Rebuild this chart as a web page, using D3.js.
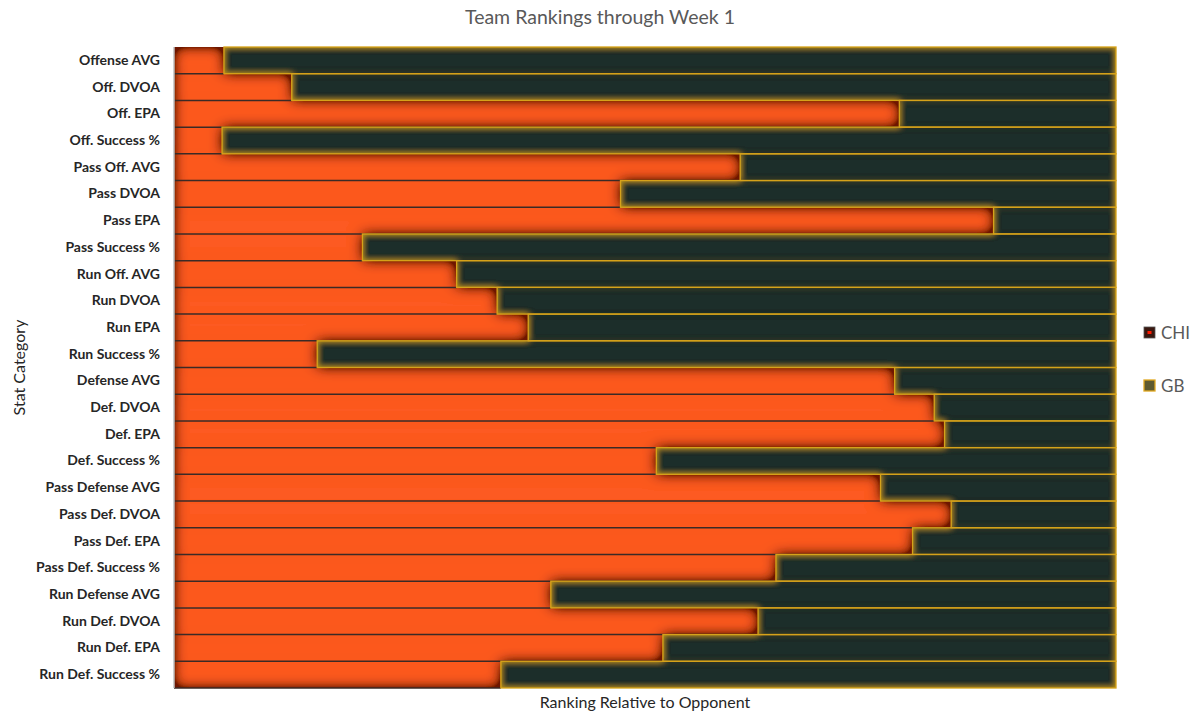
<!DOCTYPE html>
<html><head><meta charset="utf-8">
<script src="https://cdn.jsdelivr.net/npm/d3@7"></script>
<style>
html,body{margin:0;padding:0;background:#fff;}
svg{display:block;font-family:Lato, "Open Sans", sans-serif;}
</style></head>
<body><svg id="chart" width="1200" height="717"></svg>
<script>
const categories = ["Offense AVG","Off. DVOA","Off. EPA","Off. Success %","Pass Off. AVG","Pass DVOA","Pass EPA","Pass Success %","Run Off. AVG","Run DVOA","Run EPA","Run Success %","Defense AVG","Def. DVOA","Def. EPA","Def. Success %","Pass Defense AVG","Pass Def. DVOA","Pass Def. EPA","Pass Def. Success %","Run Defense AVG","Run Def. DVOA","Run Def. EPA","Run Def. Success %"];
const chiValues = [5.3,12.5,77.0,5.1,60.1,47.4,87.0,20.0,30.0,34.3,37.6,15.2,76.5,80.7,81.8,51.2,75.0,82.5,78.4,63.9,40.0,62.0,51.9,34.7];
const gbValues  = [94.7,87.5,23.0,94.9,39.9,52.6,13.0,80.0,70.0,65.7,62.4,84.8,23.5,19.3,18.2,48.8,25.0,17.5,21.6,36.1,60.0,38.0,48.1,65.3];
const seriesNames = ["CHI","GB"];
const title = "Team Rankings through Week 1";
const xTitle = "Ranking Relative to Opponent";
const yTitle = "Stat Category";

const svg = d3.select("#chart");
const M = {left:174, right:1116, top:47, bottom:688};

const rows = categories.map((c,i)=>({cat:c, CHI:chiValues[i], GB:gbValues[i]}));
const stacked = d3.stack().keys(seriesNames)(rows);

const x = d3.scaleLinear().domain([0,100]).range([M.left, M.right]);
const y = d3.scaleBand().domain(categories).range([M.top, M.bottom]).padding(0);

const defs = svg.append("defs");
function innerFilter(id, color, opacity, std, boost){
  const f = defs.append("filter").attr("id", id)
    .attr("x","-5%").attr("y","-5%").attr("width","110%").attr("height","110%");
  f.append("feComponentTransfer").attr("in","SourceAlpha").attr("result","inv")
    .append("feFuncA").attr("type","table").attr("tableValues","1 0");
  f.append("feGaussianBlur").attr("in","inv").attr("stdDeviation",std).attr("result","blur0");
  f.append("feComponentTransfer").attr("in","blur0").attr("result","blur")
    .append("feFuncA").attr("type","linear").attr("slope",boost).attr("intercept",0);
  f.append("feFlood").attr("flood-color",color).attr("flood-opacity",opacity).attr("result","col");
  f.append("feComposite").attr("in","col").attr("in2","blur").attr("operator","in").attr("result","sh");
  f.append("feComposite").attr("in","sh").attr("in2","SourceAlpha").attr("operator","in").attr("result","inner");
  const m = f.append("feMerge");
  m.append("feMergeNode").attr("in","SourceGraphic");
  m.append("feMergeNode").attr("in","inner");
}
innerFilter("innerOrange", "#5e1200", 0.95, 7, 1.9);
innerFilter("innerGold", "#e6b400", 0.8, 3, 1.0);

const colors = {CHI:"#fd5a22", GB:"#1c2f29"};

// CHI series (orange) as a group with inner shadow
const gChi = svg.append("g").attr("filter","url(#innerOrange)");
gChi.selectAll("rect").data(stacked[0]).join("rect")
  .attr("x", d=>x(d[0])).attr("width", d=>x(d[1])-x(d[0]))
  .attr("y", d=>y(d.data.cat)).attr("height", y.bandwidth())
  .attr("fill", colors.CHI);
// dark separator lines under orange rows
svg.append("g").selectAll("line").data(stacked[0]).join("line")
  .attr("x1", d=>x(d[0])).attr("x2", d=>x(d[1]))
  .attr("y1", d=>y(d.data.cat)+y.bandwidth()).attr("y2", d=>y(d.data.cat)+y.bandwidth())
  .attr("stroke","#3a2a26").attr("stroke-width",1.5);

// GB series
const gGb = svg.append("g").attr("filter","url(#innerGold)");
gGb.selectAll("rect").data(stacked[1]).join("rect")
  .attr("x", d=>x(d[0])).attr("width", d=>x(d[1])-x(d[0]))
  .attr("y", d=>y(d.data.cat)).attr("height", y.bandwidth())
  .attr("fill", colors.GB);
svg.append("g").selectAll("rect").data(stacked[1]).join("rect")
  .attr("x", d=>x(d[0])).attr("width", d=>x(d[1])-x(d[0]))
  .attr("y", d=>y(d.data.cat)).attr("height", y.bandwidth())
  .attr("fill","none").attr("stroke","#d6a21a").attr("stroke-width",1.3);

// left axis line
svg.append("line").attr("x1",M.left).attr("x2",M.left).attr("y1",M.top).attr("y2",M.bottom)
  .attr("stroke","#bfbfbf").attr("stroke-width",1.5);

// y axis labels
const yAxis = svg.append("g").attr("transform",`translate(${M.left},0)`)
  .call(d3.axisLeft(y).tickSize(0).tickPadding(14));
yAxis.select(".domain").remove();
yAxis.selectAll("text").attr("font-family","Lato, sans-serif").attr("font-weight","bold")
  .attr("font-size","14px").attr("fill","#262626");

// titles
svg.append("text").attr("x",600).attr("y",24).attr("text-anchor","middle")
  .attr("font-size","19.5px").attr("fill","#595959").text(title);
svg.append("text").attr("x",(M.left+M.right)/2).attr("y",708).attr("text-anchor","middle")
  .attr("font-size","16px").attr("fill","#262626").text(xTitle);
svg.append("text").attr("transform",`translate(25,${(M.top+M.bottom)/2}) rotate(-90)`)
  .attr("text-anchor","middle").attr("font-size","16px").attr("fill","#262626").text(yTitle);

// legend
const legend = svg.append("g");
const legY = [333, 386];
seriesNames.forEach((s,i)=>{
  const g = legend.append("g").attr("transform",`translate(1144,${legY[i]})`);
  if(s==="CHI"){
    g.append("rect").attr("x",0).attr("y",-6).attr("width",11).attr("height",11).attr("fill","#3a1810").attr("stroke","#555").attr("stroke-width",0.8);
    g.append("rect").attr("x",3.5).attr("y",-2).attr("width",4).attr("height",3).attr("fill","#ff1a00");
  } else {
    g.append("rect").attr("x",0).attr("y",-6).attr("width",11).attr("height",11).attr("fill","#5e5a30").attr("stroke","#e0a820").attr("stroke-width",1.3);
  }
  g.append("text").attr("x",17).attr("y",0).attr("dy","0.35em").attr("font-size","17px").attr("fill","#595959").text(s);
});
</script>
</body></html>
